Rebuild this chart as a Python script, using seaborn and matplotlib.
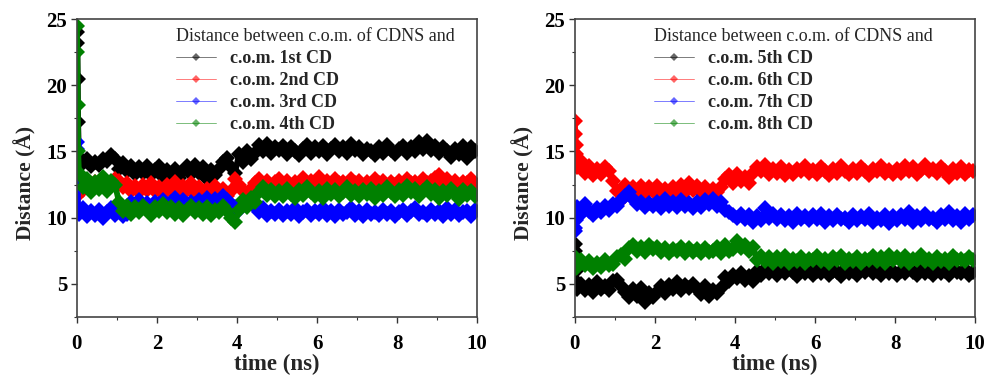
import numpy as np
import pandas as pd
import matplotlib
matplotlib.use("Agg")
import matplotlib.pyplot as plt
import seaborn as sns
from matplotlib.lines import Line2D
from matplotlib.ticker import MultipleLocator

# sampling times (ns): a few early frames, then one frame every 0.1 ns
t_start = [0.0, 0.01, 0.02, 0.03]
t_main = list(np.round(np.arange(0.05, 10.0, 0.1), 2))
time = t_start + t_main

# ---- left panel: CDNS vs CD 1-4 ----
cd1 = [24.0, 23.2, 20.5, 17.2,
       14.6, 14.1, 14.4, 13.9, 14.2, 14.0, 14.4, 14.3, 14.7, 14.4,
       13.7, 14.1, 13.5, 13.9, 13.3, 13.8, 13.4, 13.9, 13.2, 13.6,
       13.9, 13.1, 13.6, 13.2, 13.7, 13.0, 13.5, 13.9, 13.3, 14.0,
       13.4, 13.8, 12.9, 13.6, 13.2, 13.7, 14.2, 14.5, 13.8, 13.4,
       14.8, 14.2, 15.0, 14.4, 14.9, 15.5, 15.0, 15.6, 14.9, 15.3,
       15.1, 15.4, 14.8, 15.3, 15.0, 14.7, 15.2, 15.5, 14.9, 15.3,
       15.0, 15.4, 14.8, 15.2, 15.5, 15.0, 15.3, 14.9, 15.6, 15.1,
       15.3, 14.8, 15.2, 15.0, 14.7, 15.3, 14.9, 15.5, 15.1, 14.8,
       15.2, 15.4, 14.9, 15.3, 15.0, 15.7, 15.2, 15.8, 15.1, 15.4,
       14.9, 15.3, 15.0, 14.6, 15.2, 14.8, 15.4, 14.5, 15.3, 15.0]
cd2 = [12.0, 11.6, 12.4, 12.2,
       12.6, 12.1, 12.8, 12.3, 12.7, 12.4, 12.9, 12.5, 12.6, 12.9,
       12.8, 12.3, 12.6, 12.0, 12.4, 11.9, 12.5, 12.1, 12.6, 12.0,
       12.3, 11.8, 12.5, 12.0, 12.7, 11.9, 12.4, 12.1, 12.6, 11.8,
       12.3, 11.7, 12.2, 11.9, 12.4, 11.8, 12.2, 11.6, 12.0, 12.9,
       12.5, 12.0, 11.8, 12.2, 12.6, 12.9, 12.5, 12.8, 12.4, 12.7,
       12.9, 12.5, 12.8, 12.4, 12.7, 12.6, 13.0, 12.5, 12.8, 12.4,
       13.1, 12.6, 12.8, 12.4, 12.9, 12.6, 12.7, 12.5, 12.9, 12.6,
       12.8, 12.4, 12.7, 12.5, 12.9, 12.6, 12.8, 12.4, 12.7, 12.5,
       12.8, 12.5, 12.9, 12.6, 12.7, 12.4, 12.9, 12.6, 12.8, 13.0,
       13.2, 12.6, 12.9, 12.5, 12.8, 12.4, 12.7, 12.6, 12.9, 12.5]
cd3 = [15.7, 15.2, 12.5, 10.6,
       10.3, 10.7, 10.1, 10.5, 10.2, 10.6, 10.0, 10.4, 10.7, 10.2,
       10.5, 10.1, 10.3, 11.2, 10.8, 11.3, 10.9, 11.1, 10.8, 11.2,
       11.0, 11.3, 10.9, 11.2, 11.5, 11.0, 11.3, 10.9, 11.2, 11.0,
       11.3, 11.1, 11.5, 11.0, 11.4, 11.2, 11.6, 11.3, 11.0, 10.8,
       10.6, 11.1, 10.9, 11.2, 10.8, 10.4, 10.7, 10.2, 10.5, 10.3,
       10.6, 10.2, 10.5, 10.3, 10.7, 10.1, 10.4, 10.6, 10.2, 10.5,
       10.3, 10.7, 10.2, 10.5, 10.1, 10.6, 10.3, 10.4, 10.7, 10.2,
       10.5, 10.1, 10.6, 10.3, 10.4, 10.2, 10.6, 10.3, 10.5, 10.1,
       10.4, 10.6, 10.2, 10.5, 10.7, 10.3, 10.4, 10.2, 10.6, 10.3,
       10.5, 10.1, 10.7, 10.3, 10.6, 10.2, 10.4, 10.5, 10.1, 10.6]
cd4 = [24.5, 22.5, 18.5, 15.0,
       13.4, 12.3, 12.9, 11.9, 12.7, 12.2, 13.1, 12.0, 12.8, 12.5,
       11.2, 10.5, 10.9, 10.3, 10.8, 10.4, 10.9, 10.6, 10.2, 10.8,
       10.5, 11.0, 10.4, 10.8, 10.3, 10.7, 10.2, 10.6, 10.9, 10.4,
       10.7, 10.3, 10.8, 10.2, 10.6, 10.4, 10.9, 10.5, 10.0, 9.7,
       10.6, 11.3, 10.8, 11.5, 11.2, 11.9, 12.3, 11.7, 12.1, 11.6,
       12.0, 11.6, 12.2, 11.8, 11.5, 12.1, 11.7, 12.3, 11.9, 11.6,
       12.0, 11.5, 12.2, 11.8, 12.1, 11.6, 11.9, 12.3, 11.7, 12.0,
       11.6, 12.1, 11.8, 12.2, 11.5, 12.0, 11.7, 12.3, 11.9, 11.6,
       12.1, 11.7, 12.4, 11.9, 12.2, 11.6, 12.0, 12.3, 11.8, 12.1,
       11.5, 12.0, 11.7, 12.2, 11.8, 11.4, 12.1, 11.7, 12.0, 11.6]

# ---- right panel: CDNS vs CD 5-8 ----
cd5 = [8.0, 7.5, 6.0, 5.2,
       4.6, 5.0, 4.5, 4.9, 4.4, 5.1, 4.6, 4.8, 4.5, 5.2,
       5.3, 4.8, 4.4, 4.0, 4.6, 4.1, 4.7, 3.6, 4.3, 4.0,
       4.4, 4.8, 4.3, 4.9, 4.6, 5.1, 4.5, 4.9, 4.7, 5.0,
       4.6, 4.2, 4.8, 4.1, 4.5, 4.3, 4.7, 5.5, 5.2, 5.7,
       5.4, 5.8, 5.3, 5.6, 5.2, 6.0, 5.7, 6.1, 5.8, 6.2,
       5.7, 6.1, 5.8, 6.2, 5.9, 5.6, 6.0, 5.8, 6.1, 5.7,
       6.0, 5.8, 6.2, 5.7, 6.0, 5.9, 5.6, 6.1, 5.8, 6.0,
       5.7, 6.1, 5.9, 6.2, 5.8, 6.0, 5.7, 6.1, 5.8, 6.0,
       5.7, 6.0, 5.8, 6.2, 5.9, 5.7, 6.1, 5.8, 6.0, 5.7,
       6.1, 5.8, 6.0, 5.7, 6.2, 5.9, 5.8, 6.1, 5.7, 5.9]
cd6 = [17.3, 16.3, 15.5, 14.8,
       13.8, 14.3, 13.4, 13.9, 13.2, 13.7, 13.3, 13.8, 13.5, 12.8,
       12.0, 11.3, 12.5, 11.9, 12.3, 12.0, 12.4, 11.8, 12.3, 12.0,
       12.4, 11.9, 12.2, 11.8, 12.3, 12.0, 12.5, 11.9, 12.6, 12.1,
       12.4, 11.9, 12.3, 11.8, 12.2, 11.9, 12.3, 12.9, 13.2, 12.6,
       13.3, 12.8, 13.1, 12.6, 13.4, 13.8, 13.5, 14.0, 13.3, 13.7,
       13.4, 13.8, 13.2, 13.6, 13.3, 13.7, 13.5, 13.9, 13.4, 13.6,
       13.3, 13.8, 13.5, 13.2, 13.7, 13.4, 13.9, 13.5, 13.3, 13.7,
       13.4, 13.8, 13.5, 13.2, 13.7, 13.5, 13.9, 13.4, 13.6, 13.3,
       13.7, 13.4, 13.9, 13.5, 13.8, 13.3, 13.6, 14.0, 13.5, 13.7,
       13.4, 13.8, 13.5, 13.1, 13.7, 13.4, 13.8, 13.3, 13.6, 13.5]
cd7 = [9.2, 9.0, 9.8, 10.4,
       10.8, 10.3, 11.0, 10.5, 10.2, 10.7, 10.4, 10.9, 10.6, 11.0,
       10.9, 11.3, 11.6, 11.9, 11.4, 11.0, 11.2, 10.8, 11.1, 10.9,
       11.2, 10.7, 11.4, 10.9, 11.2, 10.8, 11.3, 10.9, 11.1, 10.7,
       11.2, 10.8, 11.3, 11.0, 11.4, 10.9, 11.2, 10.6, 10.4, 10.2,
       10.0, 10.3, 9.9, 10.2, 9.7, 10.1, 9.8, 10.7, 10.0, 10.3,
       9.9, 10.2, 9.8, 10.1, 9.7, 10.3, 9.9, 10.1, 9.8, 10.2,
       9.9, 10.3, 9.7, 10.1, 9.8, 10.2, 9.9, 10.0, 9.7, 10.2,
       9.8, 10.1, 9.9, 10.3, 9.7, 10.0, 9.8, 10.2, 9.6, 10.1,
       9.8, 10.2, 9.9, 10.4, 9.7, 10.1, 9.8, 10.3, 9.9, 10.0,
       9.7, 10.2, 9.9, 10.4, 9.8, 10.1, 9.7, 10.3, 9.9, 10.2]
cd8 = [7.0, 6.8, 6.2, 6.6,
       6.3, 6.8, 6.4, 6.7, 6.2, 6.6, 6.3, 6.8, 6.4, 6.5,
       7.0, 7.2, 6.9, 7.7, 7.9, 7.5, 7.8, 7.4, 7.9, 7.6,
       7.8, 7.4, 7.7, 7.3, 7.6, 7.5, 7.8, 7.3, 7.7, 7.4,
       7.6, 7.3, 7.7, 7.4, 7.5, 7.8, 7.3, 7.9, 7.5, 7.6,
       8.2, 7.7, 7.9, 7.5, 7.8, 6.8, 7.1, 6.7, 7.0, 6.6,
       7.0, 6.7, 7.1, 6.6, 6.9, 6.7, 7.0, 6.6, 6.9, 6.8,
       7.1, 6.7, 6.9, 6.6, 7.0, 6.8, 7.1, 6.6, 6.9, 6.7,
       7.0, 6.6, 6.9, 6.8, 7.1, 6.7, 7.0, 6.6, 7.2, 6.8,
       7.0, 6.7, 7.1, 6.6, 6.9, 6.8, 7.2, 6.7, 6.9, 6.6,
       7.0, 6.7, 6.9, 6.6, 7.1, 6.8, 6.9, 6.7, 7.0, 6.8]

left_labels = ["c.o.m. 1st CD", "c.o.m. 2nd CD", "c.o.m. 3rd CD", "c.o.m. 4th CD"]
right_labels = ["c.o.m. 5th CD", "c.o.m. 6th CD", "c.o.m. 7th CD", "c.o.m. 8th CD"]
colors = ["black", "#ff0000", "#0000ff", "#008000"]
legend_title = "Distance between c.o.m. of CDNS and"

sns.set_style("ticks")
plt.rcParams["font.family"] = ["Liberation Serif", "DejaVu Serif"]
plt.rcParams["font.weight"] = "bold"


def draw_panel(ax, series, labels, legend_x):
    for vals, lab, col in zip(series, labels, colors):
        sns.lineplot(x=time, y=vals, ax=ax, color=col, marker="D",
                     markersize=8, markeredgewidth=0, linewidth=4.2,
                     sort=False, estimator=None)
    ax.set_xlim(0, 10)
    ax.set_ylim(2.5, 25)
    ax.xaxis.set_major_locator(MultipleLocator(2))
    ax.xaxis.set_minor_locator(MultipleLocator(1))
    ax.yaxis.set_major_locator(MultipleLocator(5))
    ax.yaxis.set_minor_locator(MultipleLocator(2.5))
    ax.tick_params(which="major", direction="out", length=4, width=1,
                   labelsize=15, colors="#333333", labelcolor="black")
    ax.tick_params(axis="x", which="major", pad=8)
    ax.tick_params(axis="y", which="major", pad=3)
    ax.tick_params(which="minor", direction="out", length=2.5, width=0.8,
                   colors="#333333")
    for sp in ax.spines.values():
        sp.set_visible(True)
        sp.set_color("#444444")
        sp.set_linewidth(1.2)
    ax.set_xlabel("time (ns)", fontsize=16.5, fontweight="bold", labelpad=0)
    ax.set_ylabel("Distance (Å)", fontsize=15.5, fontweight="bold")
    ax.yaxis.set_label_coords(-0.10, 0.45)
    handles = [Line2D([0], [0], color=c, lw=0.6, alpha=0.6, marker="D",
                      markersize=4.5, markerfacecolor=c, markeredgewidth=0)
               for c in colors]
    leg = ax.legend(handles, labels, loc="upper left",
                    bbox_to_anchor=(legend_x, 1.0), frameon=False,
                    title=legend_title, alignment="left", borderpad=0,
                    handlelength=2.2, handletextpad=0.8, labelspacing=0.28,
                    prop={"size": 13, "weight": "bold"},
                    title_fontproperties={"size": 13, "weight": "normal"})
    return leg


fig = plt.figure(figsize=(9.86, 3.75), dpi=100)
ax1 = fig.add_axes([0.078, 0.155, 0.406, 0.794])
ax2 = fig.add_axes([0.583, 0.155, 0.406, 0.794])

draw_panel(ax1, [cd1, cd2, cd3, cd4], left_labels, 0.225)
draw_panel(ax2, [cd5, cd6, cd7, cd8], right_labels, 0.175)

fig.savefig("out.png", dpi=100)
